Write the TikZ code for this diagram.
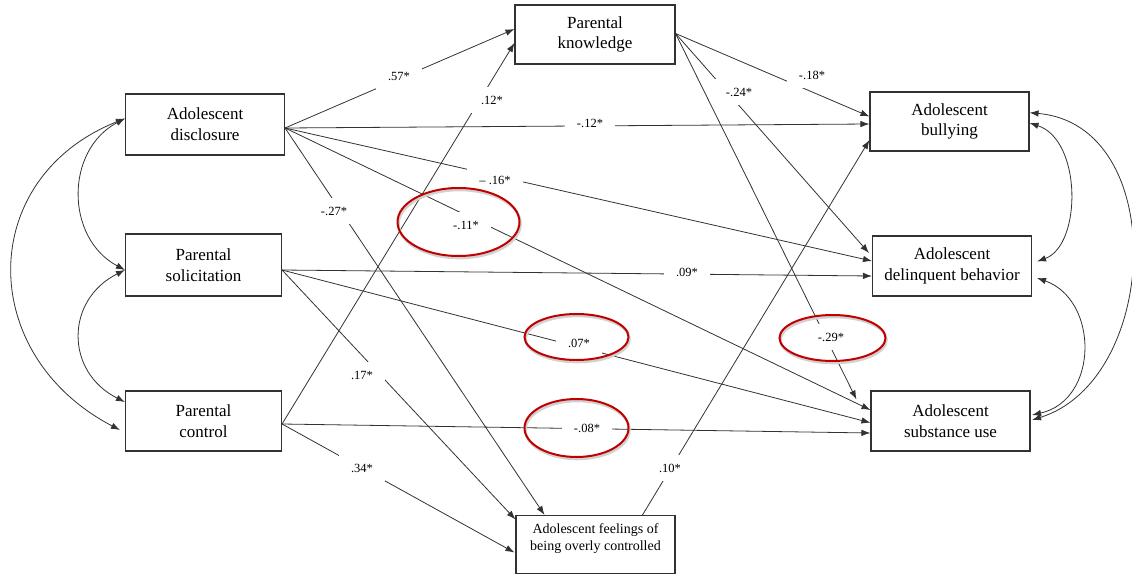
\documentclass[tikz,border=0pt]{standalone}
\usepackage{fontspec}
\setmainfont{Liberation Serif}
\usetikzlibrary{arrows.meta,calc}
\definecolor{ln}{RGB}{50,50,50}
\definecolor{circ}{RGB}{192,0,0}
\tikzset{
  box/.style={draw=ln, line width=1.1pt, fill=white, align=center, inner sep=0pt,
    font=\fontsize{17}{20.7}\selectfont},
  path/.style={draw=ln, line width=0.8pt, -{Latex[length=9pt,width=6.5pt]}},
  cov/.style={draw=ln, line width=0.8pt, {Latex[length=9pt,width=6.5pt]}-{Latex[length=9pt,width=6.5pt]}},
  coef/.style={fill=white, inner xsep=12pt, inner ysep=8.5pt, font=\fontsize{12.5}{14}\selectfont},
  ring/.style={draw=circ, line width=2pt},
  ringshadow/.style={draw=black!18, line width=2.6pt}
}
\begin{document}
\begin{tikzpicture}[x=1pt,y=-1pt]
\useasboundingbox (0,0) rectangle (1132,575);
% boxes
\node[box, minimum width=159pt, minimum height=61pt] (disc) at (205,124.5) {Adolescent\\disclosure};
\node[box, minimum width=156pt, minimum height=62pt] (sol) at (203.5,265) {Parental\\solicitation};
\node[box, minimum width=156pt, minimum height=60pt] (ctrl) at (203.5,421) {Parental\\control};
\node[box, minimum width=160pt, minimum height=59pt] (know) at (595,34.5) {Parental\\knowledge};
\node[box, minimum width=159pt, minimum height=58pt] (feel) at (595.5,544.5) {};
\node[align=center, inner sep=0pt, font=\fontsize{14}{16.7}\selectfont] (feeltxt) at (595.5,538.5) {Adolescent feelings of\\being overly controlled};
\node[box, minimum width=159pt, minimum height=59pt] (bully) at (949.5,121.5) {Adolescent\\bullying};
\node[box, minimum width=159pt, minimum height=60pt] (delin) at (952,266) {Adolescent\\delinquent behavior};
\node[box, minimum width=159pt, minimum height=60pt] (subst) at (950.5,421) {Adolescent\\substance use};

% source points
\coordinate (dS) at ([yshift=-3.5pt]disc.east);
\coordinate (sS) at ([yshift=-5pt]sol.east);
\coordinate (cS) at ([yshift=-3pt]ctrl.east);
\coordinate (kS) at ([yshift=1pt]know.east);
\coordinate (fS) at ([xshift=47pt]feel.north);
\coordinate (kEnd) at ([xshift=-14pt,yshift=-9pt]subst.north west);

% paths from disclosure
\draw[path] (dS) -- ([yshift=5.5pt]know.west);
\draw[path] (dS) -- ([yshift=-2.5pt]bully.west);
\draw[path] (dS) -- ([yshift=5pt]delin.west);
\draw[path] (dS) -- ([yshift=11pt]subst.west);
\draw[path] (dS) -- ([xshift=-51pt]feel.north);
% paths from solicitation
\draw[path] (sS) -- ([yshift=-10pt]delin.west);
\draw[path] (sS) -- ([yshift=-1.7pt]subst.west);
\draw[path] (sS) -- ([yshift=-4.5pt]feel.north west);
% paths from control
\draw[path] (cS) -- ([yshift=-8.5pt]know.west);
\draw[path] (cS) -- ([yshift=-12pt]subst.west);
\draw[path] (cS) -- ([yshift=-8pt,xshift=-1pt]feel.west);
% paths from knowledge
\draw[path] (kS) -- ([yshift=5pt]bully.west);
\draw[path] (kS) -- ([yshift=13pt,xshift=-3pt]delin.west);
\draw[path] (kS) -- (kEnd);
% path from feelings
\draw[path] (fS) -- ([yshift=-18.5pt]bully.west);

% covariances left
\draw[cov] ([yshift=6pt]disc.west) .. controls (-24,178) and (-24,355) .. ([xshift=-5pt,yshift=-9pt]ctrl.west);
\draw[cov] ([yshift=6pt]disc.west) .. controls (65,150) and (65,238) .. ([yshift=-5pt]sol.west);
\draw[cov] ([yshift=-5pt]sol.west) .. controls (65,300) and (65,372) .. ([yshift=19pt]ctrl.west);
% covariances right
\draw[cov] ([yshift=-1.5pt]bully.east) .. controls (1082,140) and (1082,245) .. ([xshift=5pt,yshift=4.5pt]delin.east);
\draw[cov] ([yshift=8.8pt]bully.east) .. controls (1170,125) and (1160,380) .. ([xshift=1.5pt,yshift=1pt]subst.east);
\draw[cov] ([xshift=5pt,yshift=-12pt]delin.east) .. controls (1099,300) and (1099,400) .. ([xshift=1.5pt,yshift=6pt]subst.east);

% coefficients
\node[coef] (c57) at (399,76) {.57*};
\node[coef] (c12a) at (492,100) {.12*};
\node[coef] (c12b) at (590,123) {-.12*};
\node[coef] (c16) at (495,180) {– .16*};
\node[coef] (c27) at (334,211) {-.27*};
\node[coef] (c11) at (466,225) {-.11*};
\node[coef] (c09) at (687,272) {.09*};
\node[coef] (c07) at (579,343) {.07*};
\node[coef] (c17) at (362,375) {.17*};
\node[coef] (c08) at (587,428) {-.08*};
\node[coef] (c34) at (362,468) {.34*};
\node[coef] (c10) at (670,468) {.10*};
\node[coef] (c18) at (812,75) {-.18*};
\node[coef] (c24) at (739,92) {-.24*};
\node[coef] (c29) at (831,337) {-.29*};

% highlight rings
\draw[ringshadow] (459.5,224) ellipse [x radius=61pt, y radius=34pt];
\draw[ring] (458.5,222) ellipse [x radius=61pt, y radius=34pt];
\draw[ringshadow] (577.5,339) ellipse [x radius=52pt, y radius=23pt];
\draw[ring] (576.5,337) ellipse [x radius=52pt, y radius=23pt];
\draw[ringshadow] (577.5,430) ellipse [x radius=52pt, y radius=29pt];
\draw[ring] (576.5,428) ellipse [x radius=52pt, y radius=29pt];
\draw[ringshadow] (833.5,340) ellipse [x radius=53pt, y radius=23pt];
\draw[ring] (832.5,338) ellipse [x radius=53pt, y radius=23pt];
\end{tikzpicture}
\end{document}
